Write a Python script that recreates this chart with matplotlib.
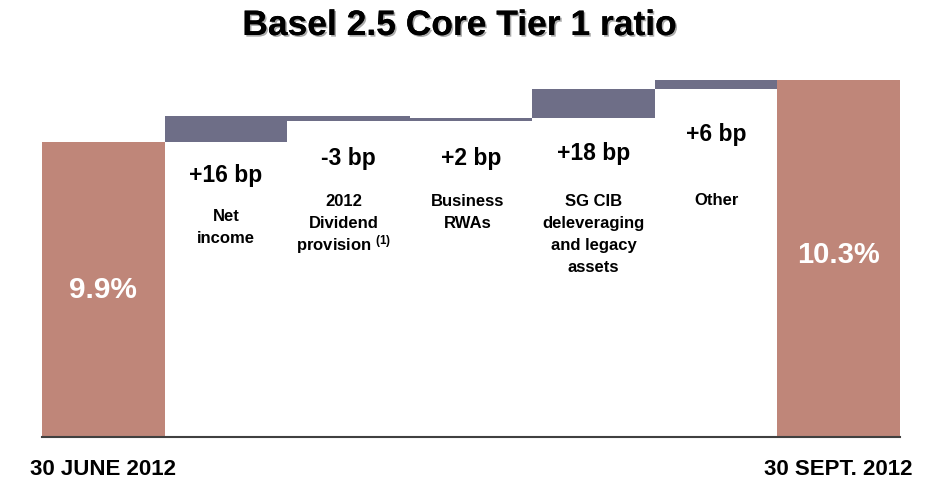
import matplotlib
matplotlib.use("Agg")
import matplotlib.pyplot as plt
import matplotlib.patheffects as pe
from matplotlib.transforms import blended_transform_factory

# Core Tier 1 ratio (%), start and end of the quarter
start_ratio = 9.9
end_label = "10.3%"
start_label = "9.9%"

# Contributions in basis points
steps = ["Net\nincome", "2012\nDividend\nprovision $^{(1)}$", "Business\nRWAs",
         "SG CIB\ndeleveraging\nand legacy\nassets", "Other"]
deltas_bp = [16, -3, 2, 18, 6]
delta_labels = ["+16 bp", "-3 bp", "+2 bp", "+18 bp", "+6 bp"]
period_labels = ["30 JUNE 2012", "30 SEPT. 2012"]

BROWN = "#BF8679"
SLATE = "#6E6E87"

plt.rcParams["font.family"] = ["Liberation Sans", "DejaVu Sans"]
plt.rcParams["mathtext.fontset"] = "custom"
plt.rcParams["mathtext.rm"] = "Liberation Sans:bold"
plt.rcParams["mathtext.default"] = "rm"

W, H = 937, 480
fig = plt.figure(figsize=(W / 100, H / 100), dpi=100)

# axes placed in pixels: left 42, right 900, top 60, bottom 437
ax = fig.add_axes([42 / W, 1 - 437 / H, (900 - 42) / W, (437 - 60) / H])
ax.set_xlim(-0.5, len(steps) + 1.5)
ax.set_ylim(8.033, 10.416)


def fy(px):
    """figure fraction from a pixel row counted from the top"""
    return 1 - px / H


bt = blended_transform_factory(ax.transData, fig.transFigure)

# start bar
ax.bar(0, start_ratio - 8.033, bottom=8.033, width=1.0, color=BROWN, linewidth=0)

# floating steps
level = start_ratio
bottoms = []
for i, d in enumerate(deltas_bp):
    new = level + d / 100
    lo = min(level, new)
    ax.bar(i + 1, abs(d) / 100, bottom=lo, width=1.0, color=SLATE, linewidth=0)
    bottoms.append(lo)
    level = new

# end bar
ax.bar(len(steps) + 1, level - 8.033, bottom=8.033, width=1.0, color=BROWN, linewidth=0)

# delta labels, baseline a fixed gap (px) below each step
label_gap = [40.5, 43.5, 44, 42.5, 51.5]
for i, (lab, lo) in enumerate(zip(delta_labels, bottoms)):
    ax.annotate(lab, (i + 1, lo), xytext=(0, -label_gap[i] / 1.389),
                textcoords="offset points", ha="center", va="baseline",
                fontsize=16.5, fontweight="bold")

# category labels, drawn line by line (baseline of first line in px)
first_base = [221, 205.5, 205.5, 205.5, 205]
x_shift = [0, -0.04, -0.03, 0, 0]
line_step = 22.3
for i, name in enumerate(steps):
    for j, line in enumerate(name.split("\n")):
        ax.text(i + 1 + x_shift[i], fy(first_base[i] + j * line_step), line,
                transform=bt, ha="center", va="baseline",
                fontsize=12, fontweight="bold")

# ratio labels in the bars
ax.text(0, fy(298.5), start_label, transform=bt, ha="center", va="baseline",
        fontsize=21.5, fontweight="bold", color="white")
ax.text(len(steps) + 1, fy(263), end_label, transform=bt, ha="center",
        va="baseline", fontsize=21, fontweight="bold", color="white")

# period labels under the axis
ax.set_xticks([0, len(steps) + 1], period_labels, fontsize=16, fontweight="bold")
ax.tick_params(axis="x", length=0, pad=16)
ax.set_yticks([])
for s in ["top", "right", "left"]:
    ax.spines[s].set_visible(False)
ax.spines["bottom"].set_color("#404040")
ax.spines["bottom"].set_linewidth(1.5)

fig.text(459.5 / W, fy(35), "Basel 2.5 Core Tier 1 ratio", ha="center",
         va="baseline", fontsize=25.5, fontweight="bold",
         path_effects=[pe.withSimplePatchShadow(offset=(1.2, -1.2),
                                               shadow_rgbFace="#888888", alpha=0.7),
                       pe.Normal()])

fig.savefig("out.png", dpi=100)
